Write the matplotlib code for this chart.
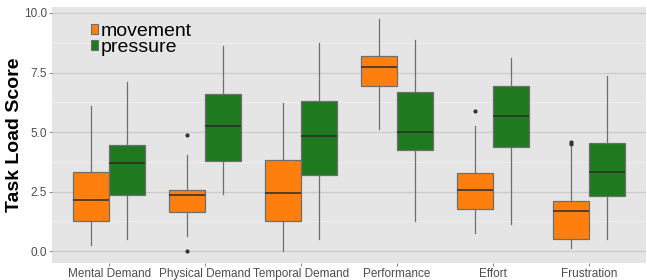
import numpy as np
import matplotlib.pyplot as plt
from matplotlib.patches import Patch

plt.rcParams['font.family'] = ['Liberation Sans', 'DejaVu Sans']

categories = ['Mental Demand', 'Physical Demand', 'Temporal Demand',
              'Performance', 'Effort', 'Frustration']
groups = ['movement', 'pressure']

# per-group box statistics
mov_whislo = [0.25, 0.63, 0.00, 5.14, 0.77, 0.14]
mov_q1     = [1.27, 1.64, 1.29, 6.94, 1.78, 0.53]
mov_med    = [2.13, 2.37, 2.45, 7.75, 2.56, 1.69]
mov_q3     = [3.32, 2.59, 3.84, 8.21, 3.27, 2.11]
mov_whishi = [6.11, 4.02, 6.23, 9.75, 5.25, 4.38]
mov_fliers = [[], [4.87, 0.0], [], [], [5.88], [4.60, 4.52]]

prs_whislo = [0.52, 2.41, 0.52, 1.26, 1.13, 0.52]
prs_q1     = [2.35, 3.78, 3.21, 4.25, 4.38, 2.31]
prs_med    = [3.69, 5.26, 4.83, 4.99, 5.69, 3.32]
prs_q3     = [4.46, 6.59, 6.31, 6.69, 6.94, 4.53]
prs_whishi = [7.12, 8.63, 8.74, 8.87, 8.12, 7.36]
prs_fliers = [[], [], [], [], [], []]

colors = {'movement': '#FF7F0E', 'pressure': '#1F7A1F'}


def make_stats(lo, q1, med, q3, hi, fl):
    return [dict(whislo=a, q1=b, med=c, q3=d, whishi=e, fliers=f)
            for a, b, c, d, e, f in zip(lo, q1, med, q3, hi, fl)]


stats = {
    'movement': make_stats(mov_whislo, mov_q1, mov_med, mov_q3, mov_whishi, mov_fliers),
    'pressure': make_stats(prs_whislo, prs_q1, prs_med, prs_q3, prs_whishi, prs_fliers),
}

fig = plt.figure(figsize=(6.47, 2.80), dpi=100)
ax = fig.add_axes([0.080, 0.061, 0.919, 0.913])
ax.set_facecolor('#E5E5E5')

x = np.arange(len(categories))
w = 0.375
for k, g in enumerate(groups):
    pos = x + (k - 0.5) * w
    ax.bxp(stats[g], positions=pos, widths=w, patch_artist=True,
           showcaps=False,
           boxprops=dict(facecolor=colors[g], edgecolor='#6E6E6E', linewidth=0.9),
           whiskerprops=dict(color='#6E6E6E', linewidth=0.9),
           medianprops=dict(color='#2B2B2B', linewidth=1.1),
           flierprops=dict(marker='o', markersize=2, markerfacecolor='#333333',
                           markeredgecolor='#333333'),
           zorder=3)

ax.set_xlim(-0.6, len(categories) - 0.4)
ax.set_ylim(-0.49, 10.24)
ax.set_xticks(x)
ax.set_xticklabels(categories)
yt = [0, 2.5, 5, 7.5, 10]
ax.set_yticks(yt)
ax.set_yticklabels(['%.1f' % v for v in yt])
ax.set_yticks([1.25, 3.75, 6.25, 8.75], minor=True)
ax.tick_params(axis='both', which='major', labelsize=8.5, labelcolor='#4D4D4D',
               color='#8C8C8C', length=2.5, width=0.8, pad=1)
ax.tick_params(axis='y', which='minor', length=0)
ax.grid(axis='y', which='major', color='#CBCBCB', linewidth=0.9, zorder=0)
ax.grid(axis='y', which='minor', color='#F2F2F2', linewidth=0.6, zorder=0)
ax.set_axisbelow(True)
for s in ax.spines.values():
    s.set_visible(False)

ax.set_ylabel('Task Load Score', fontsize=14, fontweight='bold')
ax.yaxis.set_label_coords(-0.048, 0.5)

handles = [Patch(facecolor=colors[g], edgecolor='#6E6E6E', linewidth=0.8) for g in groups]
leg = ax.legend(handles, groups, loc='upper left', bbox_to_anchor=(0.047, 0.985),
                fontsize=14, frameon=False, handlelength=0.35, handleheight=0.45,
                handletextpad=0.15, labelspacing=-0.05, borderpad=0.1)

fig.savefig('out.png', dpi=100)
